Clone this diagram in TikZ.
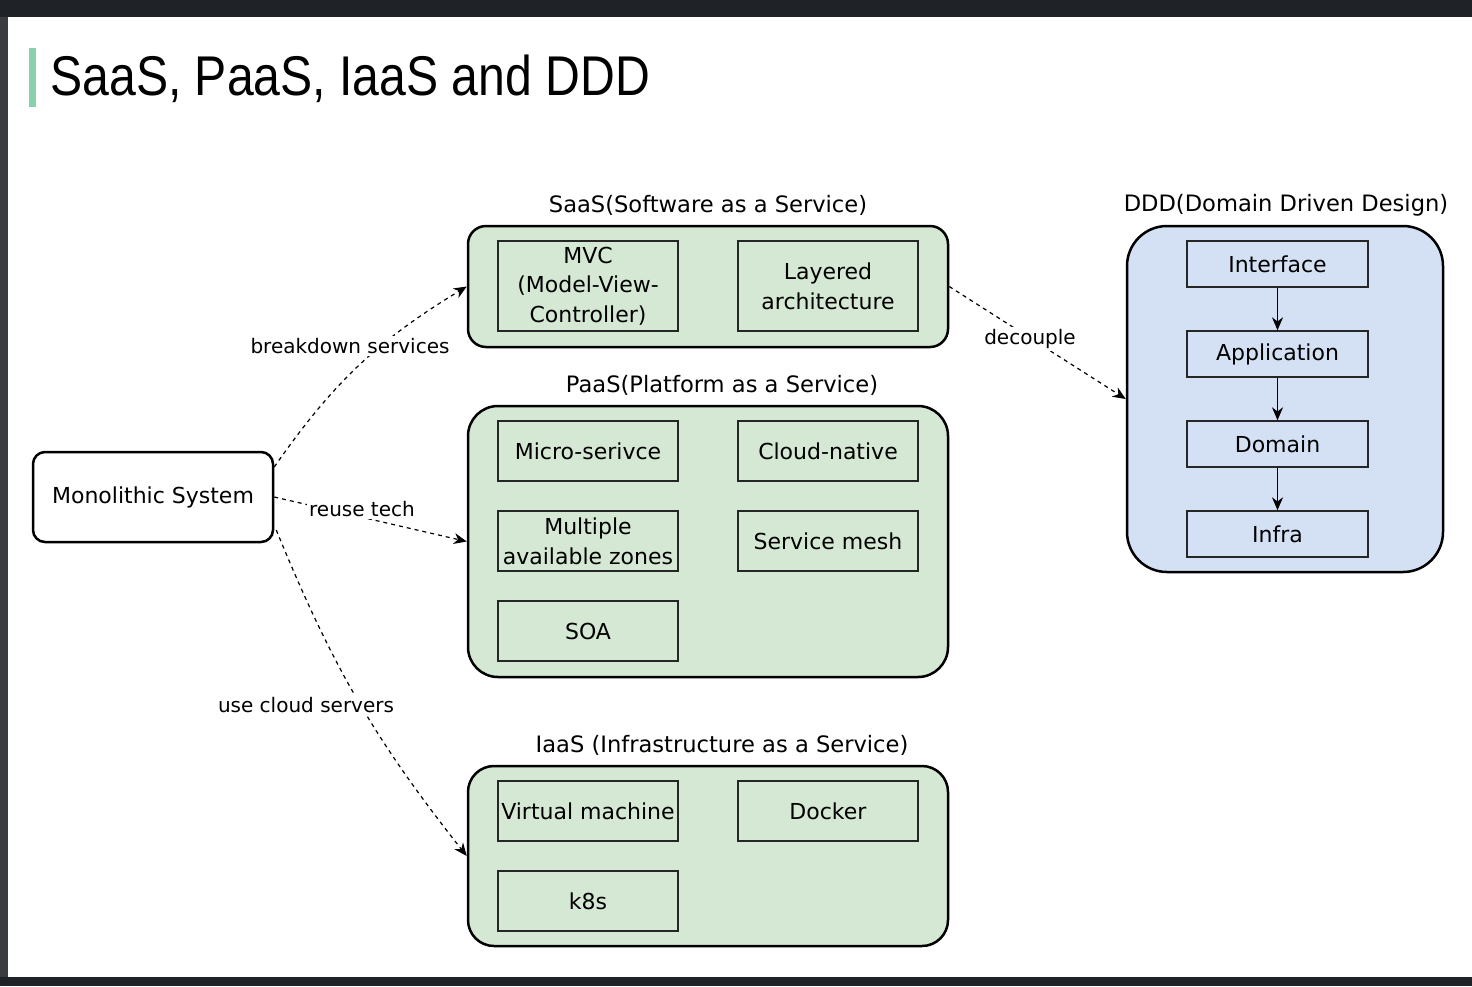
\documentclass[tikz,border=0pt]{standalone}
\usepackage{fontspec}
\setmainfont{DejaVu Sans}
\newfontfamily\titlefont[FakeStretch=0.86]{Liberation Sans}
\usetikzlibrary{arrows.meta,calc}
\definecolor{frame}{HTML}{1F2226}
\definecolor{sideframe}{HTML}{3A3C3F}
\definecolor{bargreen}{HTML}{88D1A9}
\definecolor{gfill}{HTML}{D5E8D4}
\definecolor{bfill}{HTML}{D4E1F5}
\tikzset{
  x=0.5pt, y=-0.5pt,
  outerbox/.style={draw=black, line width=1.25pt, fill=gfill},
  innerbox/.style={draw=black!85, line width=0.7pt, align=center, inner sep=1pt, font=\fontsize{11}{14.8}\selectfont},
  grouplabel/.style={font=\fontsize{11.3}{13}\selectfont},
  edgelabel/.style={fill=white, inner sep=1pt, font=\fontsize{10}{12}\selectfont},
  dasharrow/.style={draw=black, line width=0.6pt, dash pattern=on 2pt off 2pt, -{Stealth[length=6.5pt,width=5.5pt]}},
  solidarrow/.style={draw=black, line width=0.7pt, -{Stealth[length=6.5pt,width=5.5pt]}},
}
\begin{document}
\begin{tikzpicture}
\useasboundingbox (0,0) rectangle (1472,986);
\fill[frame] (0,0) rectangle (1472,986);
\fill[sideframe] (0,17) rectangle (8,977);
\fill[white] (8,17) rectangle (1472,977);
\fill[bargreen] (29,48) rectangle (36,107);
\node[anchor=base west, inner sep=0pt, font=\titlefont\fontsize{28}{30}\selectfont] (title) at (50,95) {SaaS, PaaS, IaaS and DDD};

% Monolithic
\node[draw=black, line width=1.25pt, fill=white, rounded corners=6pt, minimum width=120pt, minimum height=45pt, font=\fontsize{11}{13}\selectfont] (mono) at (153,497) {Monolithic System};

% SaaS
\node[outerbox, rounded corners=9pt, minimum width=240pt, minimum height=60.5pt] (saas) at (708,286.5) {};
\node[grouplabel] (saaslbl) at (708,205) {SaaS(Software as a Service)};
\node[innerbox, minimum width=90pt, minimum height=45pt] (mvc) at (588,286) {MVC\\(Model-View-\\Controller)};
\node[innerbox, minimum width=90pt, minimum height=45pt] (layered) at (828,286) {Layered\\architecture};

% PaaS
\node[outerbox, rounded corners=15pt, minimum width=240pt, minimum height=135.5pt] (paas) at (708,541.5) {};
\node[grouplabel] (paaslbl) at (722,385) {PaaS(Platform as a Service)};
\node[innerbox, minimum width=90pt, minimum height=30pt] (micro) at (588,451) {Micro-serivce};
\node[innerbox, minimum width=90pt, minimum height=30pt] (cloudn) at (828,451) {Cloud-native};
\node[innerbox, minimum width=90pt, minimum height=30pt] (multi) at (588,541) {Multiple\\available zones};
\node[innerbox, minimum width=90pt, minimum height=30pt] (mesh) at (828,541) {Service mesh};
\node[innerbox, minimum width=90pt, minimum height=30pt] (soa) at (588,631) {SOA};

% IaaS
\node[outerbox, rounded corners=13pt, minimum width=240pt, minimum height=90pt] (iaas) at (708,856) {};
\node[grouplabel] (iaaslbl) at (722,745) {IaaS (Infrastructure as a Service)};
\node[innerbox, minimum width=90pt, minimum height=30pt] (vm) at (588,811) {Virtual machine};
\node[innerbox, minimum width=90pt, minimum height=30pt] (docker) at (828,811) {Docker};
\node[innerbox, minimum width=90pt, minimum height=30pt] (k8s) at (588,901) {k8s};

% DDD
\node[draw=black, line width=1.25pt, fill=bfill, rounded corners=20pt, minimum width=158pt, minimum height=173pt] (ddd) at (1285,399) {};
\node[grouplabel] (dddlbl) at (1286,205) {DDD(Domain Driven Design)};
\node[innerbox, minimum width=90.5pt, minimum height=23pt] (intf) at (1277.5,264) {Interface};
\node[innerbox, minimum width=90.5pt, minimum height=23pt] (appl) at (1277.5,354) {Application};
\node[innerbox, minimum width=90.5pt, minimum height=23pt] (domn) at (1277.5,444) {Domain};
\node[innerbox, minimum width=90.5pt, minimum height=23pt] (infra) at (1277.5,534) {Infra};
\draw[solidarrow] (intf) -- (appl);
\draw[solidarrow] (appl) -- (domn);
\draw[solidarrow] (domn) -- (infra);

% dashed connectors
\draw[dasharrow] ($(mono.east)+(0,-30)$) to[bend left=12] (saas.west);
\draw[dasharrow] (mono.east) -- (paas.west);
\draw[dasharrow] ($(mono.east)+(2,33)$) to[bend right=8] (iaas.west);
\draw[dasharrow] (saas.east) -- (ddd.west);

\node[edgelabel] (l1) at (350,346) {breakdown services};
\node[edgelabel] (l2) at (362,509) {reuse tech};
\node[edgelabel] (l3) at (306,705) {use cloud servers};
\node[edgelabel] (l4) at (1030,339) {decouple};
\end{tikzpicture}
\end{document}
